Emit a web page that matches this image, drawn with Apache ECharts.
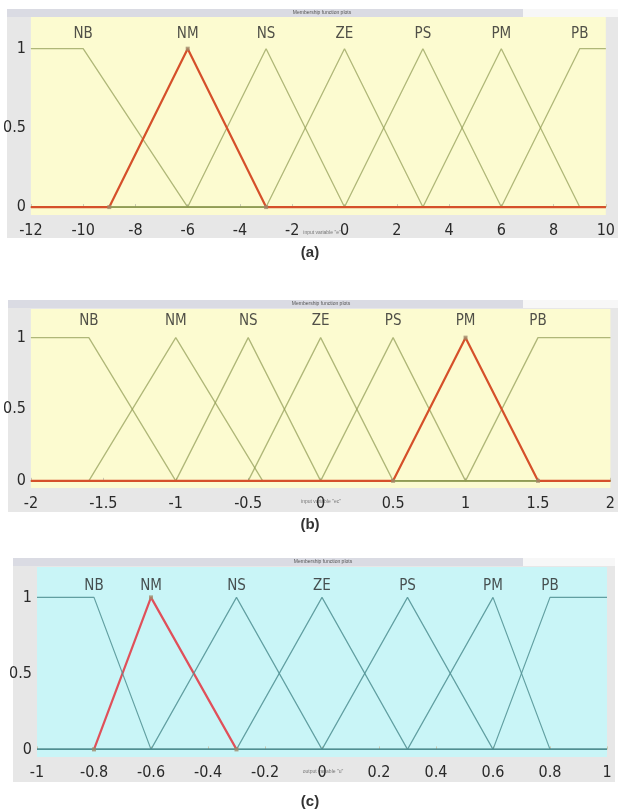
<!DOCTYPE html>
<html><head><meta charset="utf-8">
<script src="https://cdn.jsdelivr.net/npm/echarts@6/dist/echarts.min.js"></script>
<style>html,body{margin:0;padding:0;background:#fff}#c{width:618px;height:811px}</style>
</head><body><div id="c"></div>
<script>
// ---- data ----
const mfNames = ['NB', 'NM', 'NS', 'ZE', 'PS', 'PM', 'PB'];
const yTicks = [0, 0.5, 1];

// panel (a)
const rangeA = [-12, 10];
const ticksA = [-12, -10, -8, -6, -4, -2, 0, 2, 4, 6, 8, 10];
const paramsA = [[-12, -12, -10, -6], [-9, -6, -3], [-6, -3, 0], [-3, 0, 3], [0, 3, 6], [3, 6, 9], [6, 9, 10, 10]];
const selectedA = 1;

// panel (b)
const rangeB = [-2, 2];
const ticksB = [-2, -1.5, -1, -0.5, 0, 0.5, 1, 1.5, 2];
const paramsB = [[-2, -2, -1.6, -1], [-1.6, -1, -0.4], [-1, -0.5, 0], [-0.5, 0, 0.5], [0, 0.5, 1], [0.5, 1, 1.5], [1, 1.5, 2, 2]];
const selectedB = 5;

// panel (c)
const rangeC = [-1, 1];
const ticksC = [-1, -0.8, -0.6, -0.4, -0.2, 0, 0.2, 0.4, 0.6, 0.8, 1];
const paramsC = [[-1, -1, -0.8, -0.6], [-0.8, -0.6, -0.3], [-0.6, -0.3, 0], [-0.3, 0, 0.3], [0, 0.3, 0.6], [0.3, 0.6, 0.8], [0.6, 0.8, 1, 1]];
const selectedC = 1;

const axisTitles = ['input variable "e"', 'input variable "ec"', 'output variable "u"'];
const panelTags = ['(a)', '(b)', '(c)'];

// ---- helpers ----
function mu(p, x) {
  if (p.length === 4) {
    const [a, b, c, d] = p;
    if (x >= b && x <= c) return 1;
    if (x <= a || x >= d) return 0;
    if (x < b) return (x - a) / (b - a);
    return (d - x) / (d - c);
  }
  const [a, b, c] = p;
  if (x <= a || x >= c) return 0;
  if (x <= b) return (x - a) / (b - a);
  return (c - x) / (c - b);
}
function curve(p, range, full) {
  const inner = p.filter(v => v >= range[0] && v <= range[1]);
  const xs = full ? [range[0], range[1]].concat(inner) : inner;
  const uniq = Array.from(new Set(xs.map(v => +v.toFixed(6)))).sort((u, v) => u - v);
  return uniq.map(x => [x, mu(p, x)]);
}
function peakX(p, range) {
  if (p.length === 3) return p[1];
  if (p[0] <= range[0]) return p[2];
  return p[1];
}

const FONT = "'Liberation Sans Narrow', 'DejaVu Sans Condensed', 'Liberation Sans', sans-serif";

const panels = [
  { range: rangeA, ticks: ticksA, params: paramsA, sel: selectedA, fullRed: true, redZ: 4,
    grid: { left: 30, right: 8, top: 17, height: 198 }, bg: '#fcfbd0', line: '#8e9a52', lineOp: 0.7, lineW: 1.3, red: '#d5502a', labDist: 7 },
  { range: rangeB, ticks: ticksB, params: paramsB, sel: selectedB, fullRed: true, redZ: 4,
    grid: { left: 30, right: 5, top: 309, height: 179 }, bg: '#fcfbd0', line: '#8e9a52', lineOp: 0.7, lineW: 1.3, red: '#d5502a', labDist: 9 },
  { range: rangeC, ticks: ticksC, params: paramsC, sel: selectedC, fullRed: false, redZ: 2,
    grid: { left: 37, right: 11, top: 567, height: 190 }, bg: '#c9f5f7', line: '#4f8f92', lineOp: 0.85, lineW: 1.2, red: '#e0505a', labDist: 4 }
];

const grids = [], xAxes = [], yAxes = [], series = [];
panels.forEach((P, i) => {
  grids.push(Object.assign({ show: true, backgroundColor: P.bg, borderWidth: 0 }, P.grid));
  xAxes.push({
    type: 'value', gridIndex: i, min: P.range[0], max: P.range[1],
    axisLine: { show: false }, splitLine: { show: false },
    axisTick: { show: true, inside: true, length: 3, customValues: P.ticks, lineStyle: { color: '#c9c9b0' } },
    axisLabel: { customValues: P.ticks, margin: 8, fontSize: 16, color: '#2a2a2a', fontFamily: FONT }
  });
  yAxes.push({
    type: 'value', gridIndex: i, min: -0.05, max: 1.2,
    axisLine: { show: false }, splitLine: { show: false },
    axisTick: { show: false },
    axisLabel: { customValues: yTicks, margin: 5, fontSize: 16, color: '#2a2a2a', fontFamily: FONT }
  });
  // selected MF (red)
  series.push({
    type: 'line', xAxisIndex: i, yAxisIndex: i, silent: true, symbol: 'none',
    data: curve(P.params[P.sel], P.range, P.fullRed),
    lineStyle: { color: P.red, width: 2.2 }, z: P.redZ
  });
  P.params.forEach((p, k) => {
    if (k === P.sel) return;
    series.push({
      type: 'line', xAxisIndex: i, yAxisIndex: i, silent: true, symbol: 'none',
      data: curve(p, P.range, true),
      lineStyle: { color: P.line, width: P.lineW, opacity: P.lineOp }, z: 3
    });
  });
  // markers on selected MF vertices
  series.push({
    type: 'scatter', xAxisIndex: i, yAxisIndex: i, silent: true,
    symbol: 'rect', symbolSize: 4,
    data: P.params[P.sel].map(x => [x, mu(P.params[P.sel], x)]),
    itemStyle: { color: '#a08a6a' }, z: 5
  });
  // MF name labels
  series.push({
    type: 'scatter', xAxisIndex: i, yAxisIndex: i, silent: true, symbolSize: 0,
    data: P.params.map((p, k) => ({ value: [peakX(p, P.range), 1], name: mfNames[k] })),
    label: { show: true, position: 'top', distance: P.labDist, formatter: '{b}',
             fontSize: 15, color: '#262626', fontFamily: FONT },
    z: 6
  });
});

// decorative frames (MATLAB GUI panels)
const frames = [
  { x: 7, y: 9, w: 611, h: 229, strip: 516, tx: 322, ty: 13, lx: 322, ly: 233, tag: 253 },
  { x: 8, y: 300, w: 610, h: 212, strip: 515, tx: 321, ty: 304, lx: 321, ly: 502, tag: 525 },
  { x: 13, y: 558, w: 602, h: 224, strip: 510, tx: 323, ty: 562, lx: 323, ly: 772, tag: 802 }
];
const graphic = [];
frames.forEach((f, i) => {
  graphic.push({ type: 'rect', z: -10, shape: { x: f.x, y: f.y, width: f.w, height: f.h }, style: { fill: '#e7e7e7' } });
  graphic.push({ type: 'rect', z: -9, shape: { x: f.x, y: f.y, width: f.strip, height: 8 }, style: { fill: '#dadbe3' } });
  graphic.push({ type: 'rect', z: -9, shape: { x: f.x + f.strip, y: f.y, width: f.w - f.strip, height: 8 }, style: { fill: '#f7f7f7' } });
  graphic.push({ type: 'text', z: -8, x: f.tx, y: f.ty, style: { text: 'Membership function plots', fontSize: 5, fill: '#555', align: 'center', verticalAlign: 'middle', fontFamily: 'Liberation Sans' } });
  graphic.push({ type: 'text', z: -8, x: f.lx, y: f.ly, style: { text: axisTitles[i], fontSize: 5, fill: '#777', align: 'center', verticalAlign: 'middle', fontFamily: 'Liberation Sans' } });
  graphic.push({ type: 'text', z: 10, x: 310, y: f.tag, style: { text: panelTags[i], fontSize: 15, fontWeight: 'bold', fill: '#333', align: 'center', verticalAlign: 'middle', fontFamily: "'Liberation Sans', sans-serif" } });
});

const chart = echarts.init(document.getElementById('c'), null, { renderer: 'canvas' });
chart.setOption({
  animation: false,
  backgroundColor: '#ffffff',
  grid: grids, xAxis: xAxes, yAxis: yAxes, series: series, graphic: graphic
});
</script>
</body></html>
